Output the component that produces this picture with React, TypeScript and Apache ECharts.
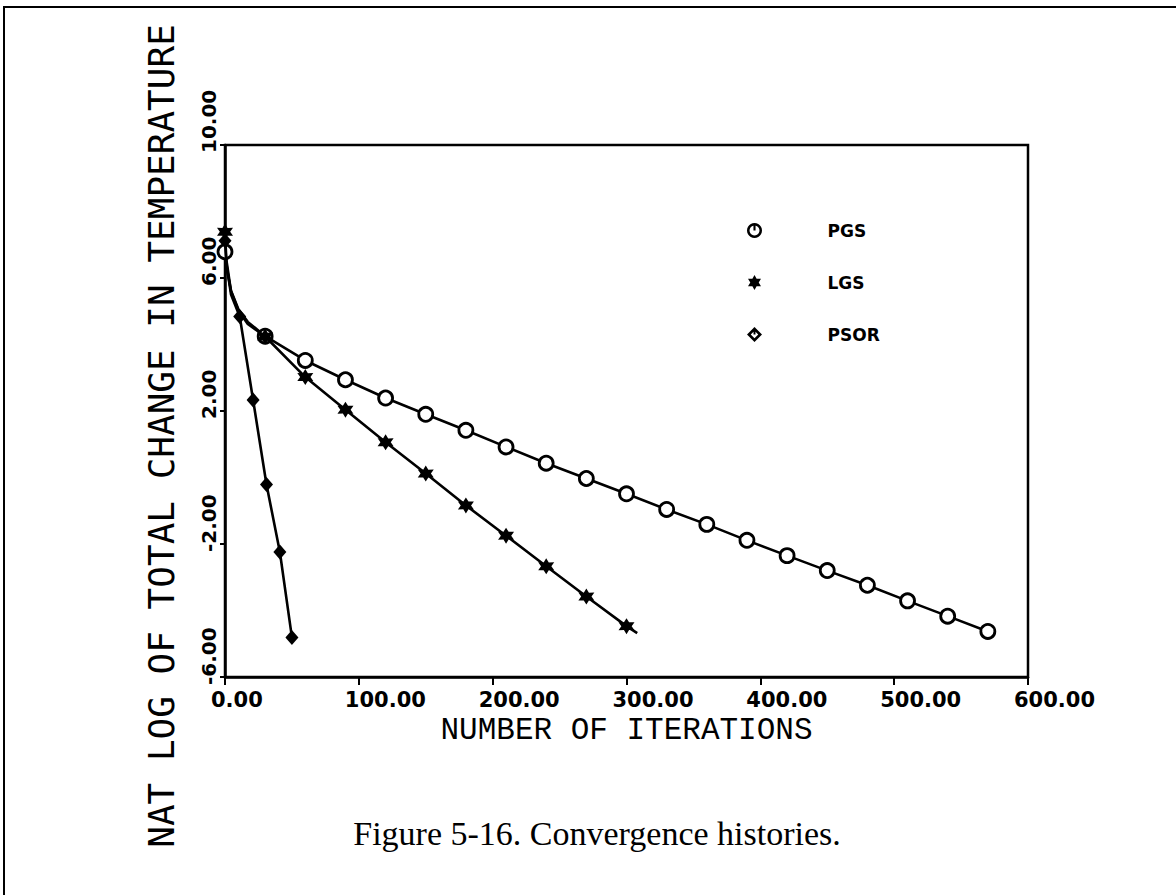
import React, { useEffect, useRef } from "react";
import * as echarts from "echarts";

// Axis ticks
const xTickValues = [0, 100, 200, 300, 400, 500, 600];
const yTickValues = [-6, -2, 2, 6, 10];

// PGS: natural log of total temperature change vs. iteration count
const pgsIterations = [0, 1.5, 4.5, 10, 17, 30, 60, 90, 120, 150, 180, 210, 240, 270, 300, 330, 360, 390, 420, 450, 480, 510, 540, 570];
const pgsLogChange = [6.79, 6.25, 5.62, 5.06, 4.68, 4.25, 3.52, 2.94, 2.39, 1.9, 1.42, 0.92, 0.43, -0.03, -0.49, -0.96, -1.41, -1.89, -2.35, -2.8, -3.24, -3.71, -4.17, -4.63];
const pgsUnmarked = [1, 2, 3, 4];

// LGS
const lgsIterations = [0, 1, 4.5, 10, 17, 30, 60, 90, 120, 150, 180, 210, 240, 270, 300, 308];
const lgsLogChange = [7.39, 6.55, 5.6, 5.02, 4.62, 4.24, 3.02, 2.04, 1.06, 0.12, -0.84, -1.75, -2.67, -3.58, -4.47, -4.68];
const lgsUnmarked = [1, 2, 3, 4, 15];

// PSOR
const psorIterations = [0, 1, 4.5, 11, 21, 31, 41, 50];
const psorLogChange = [7.12, 6.45, 5.5, 4.84, 2.33, -0.21, -2.24, -4.81];
const psorUnmarked = [1, 2];

const seriesNames = ["PGS", "LGS", "PSOR"];

// Six-pointed star marker
const starPath =
  "path://" +
  Array.from({ length: 12 }, (_, i) => {
    const r = i % 2 === 0 ? 10 : 5.6;
    const a = -Math.PI / 2 + (i * Math.PI) / 6;
    return `${i === 0 ? "M" : "L"}${(10 + r * Math.cos(a)).toFixed(2)},${(10 + r * Math.sin(a)).toFixed(2)}`;
  }).join(" ") +
  " Z";

// Ring with a stem (legend icon for PGS)
const ringStemPath =
  "path://M10,0 A10,10 0 1,1 9.99,0 Z M10,3.4 A6.6,6.6 0 1,0 10.01,3.4 Z M8.6,1 L11.4,1 L11.4,10 L8.6,10 Z";

// Diamond outline with a stem (legend icon for PSOR)
const diamondStemPath =
  "path://M10,0 L20,10 L10,20 L0,10 Z M10,5 L5,10 L10,15 L15,10 Z M8.7,1 L11.3,1 L11.3,10 L8.7,10 Z";

const TICK_FONT_FAMILY = "DejaVu Sans";
const TICK_FONT_SIZE = 21;
const Y_TICK_FONT_SIZE = 20;

function toSeriesData(xs: number[], ys: number[], plain: number[]) {
  return xs.map((x, i) =>
    plain.includes(i) ? { value: [x, ys[i]], symbol: "none" } : { value: [x, ys[i]] }
  );
}

function textWidth(text: string, font: string): number {
  const ctx = document.createElement("canvas").getContext("2d");
  if (!ctx) return text.length * 12;
  ctx.font = font;
  return ctx.measureText(text).width;
}

export default function App() {
  const ref = useRef<HTMLDivElement>(null);

  useEffect(() => {
    if (!ref.current) return;
    const chart = echarts.init(ref.current, undefined, { renderer: "svg" });

    const xFont = `bold ${TICK_FONT_SIZE}px "${TICK_FONT_FAMILY}"`;
    const yFont = `bold ${Y_TICK_FONT_SIZE}px "${TICK_FONT_FAMILY}"`;

    // Tick labels start a little before their tick; centred boxes with left padding place them there.
    const xRich: Record<string, any> = {};
    xTickValues.forEach((v, i) => {
      const w = textWidth(v.toFixed(2), xFont);
      xRich["x" + i] = {
        fontFamily: TICK_FONT_FAMILY,
        fontWeight: "bold",
        fontSize: TICK_FONT_SIZE,
        color: "#000",
        padding: [0, 0, 0, Math.max(0, w - 28)],
      };
    });
    const yRich: Record<string, any> = {};
    yTickValues.forEach((v, i) => {
      const w = textWidth(v.toFixed(2), yFont);
      yRich["y" + i] = {
        fontFamily: TICK_FONT_FAMILY,
        fontWeight: "bold",
        fontSize: Y_TICK_FONT_SIZE,
        color: "#000",
        padding: [0, 0, 0, Math.max(0, w - 16)],
      };
    });

    const lineStyle = { color: "#000", width: 2.6 };

    chart.setOption({
      animation: false,
      backgroundColor: "#fff",
      grid: {
        left: 225,
        right: 148,
        top: 145,
        bottom: 218,
        show: true,
        borderColor: "#000",
        borderWidth: 2.5,
        backgroundColor: "transparent",
      },
      xAxis: {
        type: "value",
        min: 0,
        max: 600,
        interval: 100,
        name: "NUMBER OF ITERATIONS",
        nameLocation: "middle",
        nameGap: 38,
        nameTextStyle: {
          fontFamily: "Liberation Mono",
          fontWeight: "normal",
          fontSize: 31,
          color: "#000",
        },
        axisLine: { show: true, onZero: false, lineStyle: { color: "#000", width: 2.5 } },
        axisTick: { show: true, inside: false, length: 8, lineStyle: { color: "#000", width: 2 } },
        splitLine: { show: false },
        axisLabel: {
          show: true,
          margin: 12,
          align: "center",
          verticalAlign: "top",
          formatter: (v: number) => `{x${xTickValues.indexOf(v)}|${v.toFixed(2)}}`,
          rich: xRich,
        },
      },
      yAxis: {
        type: "value",
        min: -6,
        max: 10,
        interval: 4,
        name: "NAT LOG OF TOTAL CHANGE IN TEMPERATURE",
        nameLocation: "middle",
        nameGap: 46,
        nameRotate: 90,
        nameTextStyle: {
          fontFamily: "DejaVu Sans Mono",
          fontWeight: "normal",
          fontSize: 36,
          color: "#000",
          padding: [0, 50, 0, 0],
        },
        axisLine: { show: true, onZero: false, lineStyle: { color: "#000", width: 2.5 } },
        axisTick: {
          show: true,
          inside: false,
          length: 5,
          lineStyle: { color: "#000", width: 2 },
          customValues: yTickValues,
        },
        splitLine: { show: false },
        axisLabel: {
          show: true,
          rotate: 90,
          margin: 6,
          align: "center",
          verticalAlign: "bottom",
          customValues: yTickValues,
          formatter: (v: number) => `{y${yTickValues.indexOf(v)}|${v.toFixed(2)}}`,
          rich: yRich,
        },
      },
      legend: {
        orient: "vertical",
        left: 747,
        top: 222,
        padding: 0,
        itemWidth: 136,
        itemHeight: 15,
        itemGap: 35,
        selectedMode: false,
        textStyle: {
          fontFamily: "DejaVu Sans",
          fontWeight: "bold",
          fontSize: 17,
          color: "#000",
        },
        data: [
          { name: seriesNames[0], icon: ringStemPath, itemStyle: { color: "#000", borderWidth: 0 } },
          { name: seriesNames[1], icon: starPath, itemStyle: { color: "#000", borderWidth: 0 } },
          { name: seriesNames[2], icon: diamondStemPath, itemStyle: { color: "#000", borderWidth: 0 } },
        ],
      },
      series: [
        {
          name: seriesNames[0],
          type: "line",
          data: toSeriesData(pgsIterations, pgsLogChange, pgsUnmarked),
          symbol: "circle",
          symbolSize: 14,
          lineStyle,
          itemStyle: { color: "#fff", borderColor: "#000", borderWidth: 2.8 },
          z: 3,
        },
        {
          name: seriesNames[1],
          type: "line",
          data: toSeriesData(lgsIterations, lgsLogChange, lgsUnmarked),
          symbol: starPath,
          symbolSize: 16,
          lineStyle,
          itemStyle: { color: "#000", borderWidth: 0 },
          z: 4,
        },
        {
          name: seriesNames[2],
          type: "line",
          data: toSeriesData(psorIterations, psorLogChange, psorUnmarked),
          symbol: "diamond",
          symbolSize: [13, 15],
          lineStyle,
          itemStyle: { color: "#000", borderWidth: 0 },
          z: 4,
        },
      ],
      graphic: [
        {
          type: "line",
          shape: { x1: 3, y1: 7, x2: 1176, y2: 7 },
          style: { stroke: "#000", lineWidth: 2 },
        },
        {
          type: "line",
          shape: { x1: 4, y1: 6, x2: 4, y2: 895 },
          style: { stroke: "#000", lineWidth: 2 },
        },
        {
          type: "text",
          x: 597,
          y: 833,
          style: {
            text: "Figure 5-16. Convergence histories.",
            fontFamily: "Liberation Serif",
            fontSize: 34,
            fill: "#000",
            align: "center",
            verticalAlign: "middle",
          },
        },
      ],
    });

    return () => chart.dispose();
  }, []);

  return (
    <div
      ref={ref}
      style={{ position: "absolute", left: 0, top: 0, width: 1176, height: 895, background: "#fff" }}
    />
  );
}
